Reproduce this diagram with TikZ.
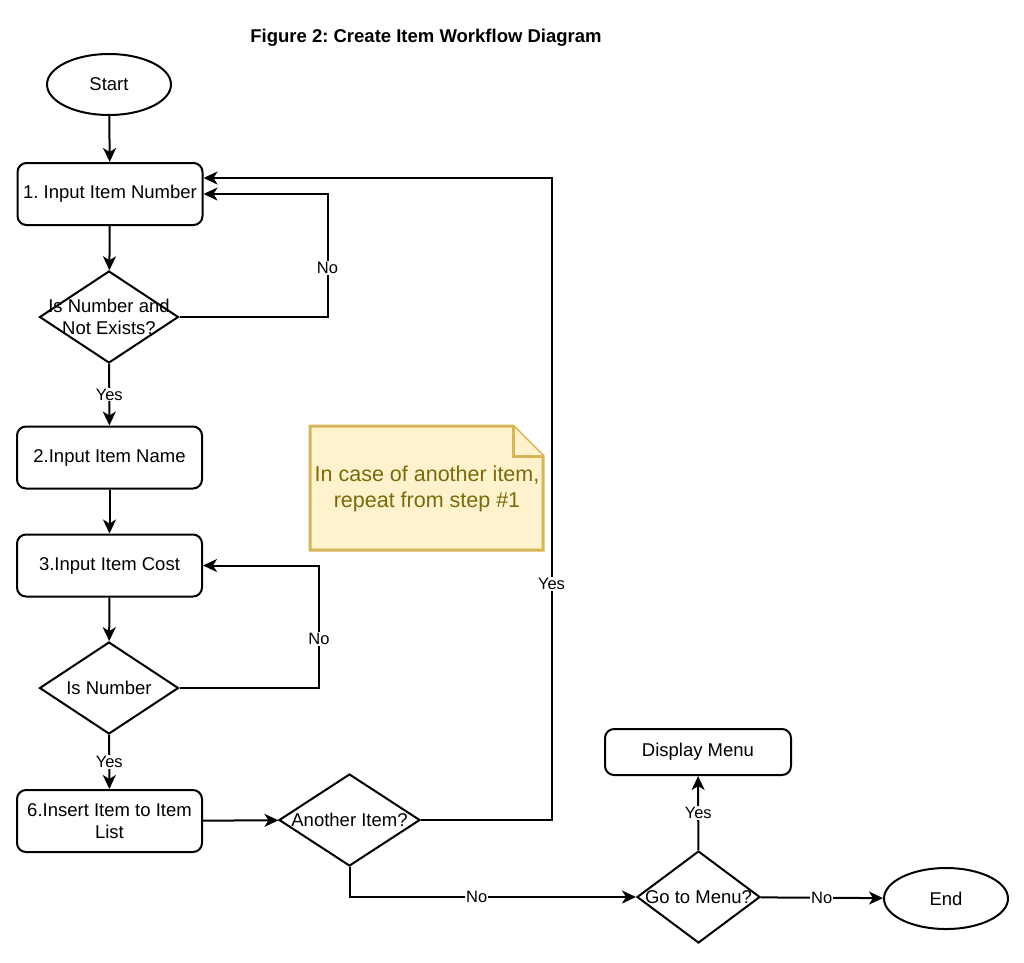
\documentclass[tikz,border=0pt]{standalone}
\usepackage{fontspec}
\setmainfont{Liberation Sans}
\usetikzlibrary{arrows.meta, shapes.geometric}
\definecolor{notefill}{HTML}{FFF2CC}
\definecolor{noteline}{HTML}{D6B656}
\definecolor{notetext}{HTML}{7A6A0A}
\frenchspacing

\begin{document}
\begin{tikzpicture}[x = 1pt, y = -1pt]
\tikzstyle{BoxStyle}=[shape = rectangle,
								 rounded corners = 9pt,
								 minimum width = 185pt,
								 minimum height = 62pt,
								 inner sep = 2pt,
								 align = center,
								 line width = 2pt,
								 font = \fontsize{18.5}{22.5}\selectfont,
                         draw]
\tikzstyle{TermStyle}=[shape = ellipse,
								 minimum width = 124pt,
								 minimum height = 61pt,
								 inner sep = 0pt,
								 line width = 2pt,
								 font = \fontsize{18.5}{22.5}\selectfont,
                         draw]
\tikzstyle{DecisionStyle}=[shape = diamond,
								 minimum height = 92pt,
								 inner sep = 0pt,
								 line width = 2pt,
                         draw]
\tikzstyle{TextStyle}=[align = center,
								 inner sep = 0pt,
								 font = \fontsize{18.5}{22.5}\selectfont]
\tikzstyle{LabelStyle}=[fill = white,
								 inner sep = 1pt,
								 font = \fontsize{16.5}{19}\selectfont]
\tikzstyle{EdgeStyle}=[-{Stealth[length = 14pt, width = 13pt, inset = 4pt]},
								 line width = 2pt]
\tikzstyle{NoteStyle}=[fill = notefill,
								 draw = noteline,
								 line width = 3pt]
\useasboundingbox (0,0) rectangle (1024,962);
\node[font = \bfseries\fontsize{18.5}{22.5}\selectfont] (t0) at (426,38) {Figure 2: Create Item Workflow Diagram};
\node[TermStyle] (v0) at (109,84.5) {Start};
\node[BoxStyle] (v1) at (110,194) {1. Input Item Number};
\node[DecisionStyle, minimum width = 139pt, label = {[TextStyle]center:Is Number and\\Not Exists?}] (v2) at (109,317) {};
\node[BoxStyle] (v3) at (109.5,457.5) {2.Input Item Name};
\node[BoxStyle] (v4) at (109.5,565.5) {3.Input Item Cost};
\node[DecisionStyle, minimum width = 139pt, label = {[TextStyle]center:Is Number}] (v5) at (109,688) {};
\node[BoxStyle] (v6) at (109.5,821) {6.Insert Item to Item\\List};
\node[DecisionStyle, minimum width = 141pt, label = {[TextStyle]center:Another Item?}] (v7) at (349.5,820) {};
\node[DecisionStyle, minimum width = 123pt, label = {[TextStyle]center:Go to Menu?}] (v8) at (698.5,897) {};
\node[BoxStyle, minimum width = 186pt, minimum height = 46pt] (v9) at (698,752) {Display Menu};
\node[TermStyle] (v10) at (946,898.5) {End};
\filldraw[NoteStyle] (310,426) -- (513,426) -- (543,456) -- (543,550) -- (310,550) -- cycle;
\draw[NoteStyle] (513,426) -- (513,456) -- (543,456);
\node[align = center, text = notetext, font = \fontsize{21.5}{26}\selectfont] (v11) at (427,489) {In case of another item,\\repeat from step \#1};
\draw[EdgeStyle] (v0) -- (v1);
\draw[EdgeStyle] (v1) -- (v2);
\draw[EdgeStyle] (v2) -- node[LabelStyle] {Yes} (v3);
\draw[EdgeStyle] (v2.east) -| ([xshift = 124pt]v1.east) node[LabelStyle, pos = 0.7] {No} -- (v1.east);
\draw[EdgeStyle] (v3) -- (v4);
\draw[EdgeStyle] (v4) -- (v5);
\draw[EdgeStyle] (v5) -- node[LabelStyle] {Yes} (v6);
\draw[EdgeStyle] (v5.east) -| ([xshift = 116pt]v4.east) node[LabelStyle, pos = 0.7] {No} -- (v4.east);
\draw[EdgeStyle] (v6) -- (v7);
\draw[EdgeStyle] (v7.east) -| ([xshift = 348pt, yshift = 16pt]v1.east) node[LabelStyle, pos = 0.684] {Yes} -- ([yshift = 16pt]v1.east);
\draw[EdgeStyle] (v7.south) |- (v8.west) node[LabelStyle, pos = 0.722] {No};
\draw[EdgeStyle] (v8) -- node[LabelStyle] {Yes} (v9);
\draw[EdgeStyle] (v8) -- node[LabelStyle] {No} (v10);
\end{tikzpicture}
\end{document}
